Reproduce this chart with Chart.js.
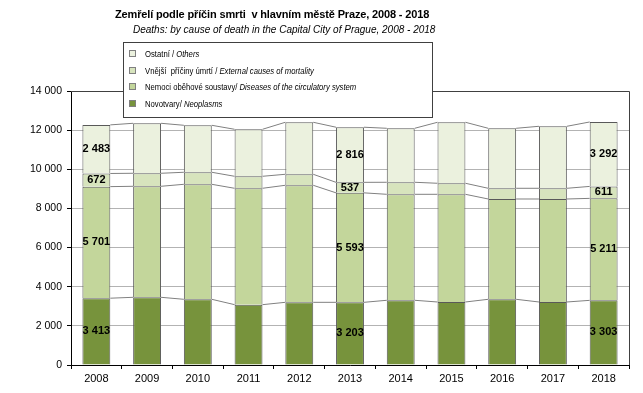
<!DOCTYPE html>
<html>
<head>
<meta charset="utf-8">
<script src="https://cdn.jsdelivr.net/npm/chart.js@4.4.1/dist/chart.umd.min.js"></script>
<style>
  body { margin: 0; background: #fff; }
  #wrap { position: relative; width: 643px; height: 393px; font-family: "Liberation Sans", Arial, sans-serif; color: #000; }
  .nadpis { position: absolute; left: 115px; top: 7px; font-size: 11px; font-weight: bold; letter-spacing: -0.15px; white-space: nowrap; line-height: 14px; }
  .podnadpis { position: absolute; left: 133px; top: 23px; font-size: 10px; font-style: italic; white-space: nowrap; line-height: 14px; }
  .legenda { position: absolute; left: 123px; top: 42px; width: 308px; height: 74px; border: 1px solid #404040; background: #fff; font-size: 9px; }
  .polozka { position: absolute; left: 5px; height: 12px; line-height: 12px; white-space: nowrap; }
  .znacka { display: inline-block; width: 5px; height: 5px; border: 1px solid #808080; margin-right: 9px; vertical-align: 0px; }
  .text { display: inline-block; transform: scaleX(0.855); transform-origin: left center; }
</style>
</head>
<body>
<div id="wrap">
  <canvas id="graf" width="643" height="393"></canvas>
  <div class="nadpis">Zemřelí podle příčin smrti&nbsp; v hlavním městě Praze, 2008 - 2018</div>
  <div class="podnadpis">Deaths: by cause of death in the Capital City of Prague, 2008 - 2018</div>
  <div class="legenda">
    <div class="polozka" style="top:5px"><span class="znacka" style="background:#EBF1DE"></span><span class="text">Ostatní / <i>Others</i></span></div>
    <div class="polozka" style="top:22px"><span class="znacka" style="background:#D7E4BD"></span><span class="text">Vnější&nbsp; příčiny úmrtí / <i>External causes of mortality</i></span></div>
    <div class="polozka" style="top:38px"><span class="znacka" style="background:#C3D69B"></span><span class="text">Nemoci oběhové soustavy/ <i>Diseases of the circulatory system</i></span></div>
    <div class="polozka" style="top:55px"><span class="znacka" style="background:#77933C"></span><span class="text">Novotvary/ <i>Neoplasms</i></span></div>
  </div>
</div>
<script>
// hodnoty
const roky = ['2008', '2009', '2010', '2011', '2012', '2013', '2014', '2015', '2016', '2017', '2018'];
const novotvary = [3413, 3459, 3357, 3083, 3203, 3203, 3306, 3219, 3357, 3219, 3303];
const obehove = [5701, 5672, 5876, 5946, 5979, 5593, 5416, 5503, 5125, 5263, 5211];
const vnejsi = [672, 665, 614, 613, 562, 537, 614, 563, 547, 547, 611];
const ostatni = [2483, 2554, 2401, 2402, 2658, 2816, 2759, 3117, 3066, 3168, 3292];
const popsaneRoky = [0, 5, 10]; // sloupce s popisky hodnot

const formatuj = (n) => String(n).replace(/\B(?=(\d{3})+(?!\d))/g, ' ');

// spojnice mezi sloupci, rámeček a popisky
const doplnky = {
  id: 'doplnky',
  afterDatasetsDraw(chart) {
    const ctx = chart.ctx;
    const area = chart.chartArea;
    ctx.save();

    ctx.strokeStyle = '#808080';
    ctx.lineWidth = 1;
    chart.data.datasets.forEach((ds, s) => {
      const bary = chart.getDatasetMeta(s).data;
      for (let i = 0; i < bary.length - 1; i++) {
        const a = bary[i], b = bary[i + 1];
        ctx.beginPath();
        ctx.moveTo(a.x + a.width / 2, a.y);
        ctx.lineTo(b.x - b.width / 2, b.y);
        ctx.stroke();
      }
    });

    ctx.strokeStyle = '#404040';
    ctx.beginPath();
    ctx.moveTo(area.left, area.top + 0.5);
    ctx.lineTo(area.right + 0.5, area.top + 0.5);
    ctx.lineTo(area.right + 0.5, area.bottom);
    ctx.stroke();

    ctx.fillStyle = '#000';
    ctx.font = 'bold 11px "Liberation Sans", Arial, sans-serif';
    ctx.textAlign = 'center';
    ctx.textBaseline = 'middle';
    chart.data.datasets.forEach((ds, s) => {
      const bary = chart.getDatasetMeta(s).data;
      popsaneRoky.forEach((i) => {
        const el = bary[i];
        ctx.fillText(formatuj(ds.data[i]), el.x, (el.y + el.base) / 2);
      });
    });
    ctx.restore();
  }
};

const sloupec = (label, data, barva) => ({
  label: label,
  data: data,
  backgroundColor: barva,
  borderColor: '#595959',
  borderWidth: 1,
  categoryPercentage: 1,
  barPercentage: 0.55
});

new Chart(document.getElementById('graf'), {
  type: 'bar',
  data: {
    labels: roky,
    datasets: [
      sloupec('Novotvary / Neoplasms', novotvary, '#77933C'),
      sloupec('Nemoci oběhové soustavy / Diseases of the circulatory system', obehove, '#C3D69B'),
      sloupec('Vnější příčiny úmrtí / External causes of mortality', vnejsi, '#D7E4BD'),
      sloupec('Ostatní / Others', ostatni, '#EBF1DE')
    ]
  },
  options: {
    responsive: false,
    animation: false,
    layout: { padding: { left: 0, right: 14, top: 91, bottom: 0 } },
    plugins: {
      legend: { display: false },
      tooltip: { enabled: false }
    },
    scales: {
      x: {
        stacked: true,
        border: { color: '#000' },
        grid: { offset: true, drawOnChartArea: false, tickLength: 4, tickColor: '#000' },
        ticks: { color: '#000', padding: 3, font: { family: '"Liberation Sans", Arial, sans-serif', size: 11 } },
        afterFit: (scale) => { scale.height = 28; }
      },
      y: {
        stacked: true,
        min: 0,
        max: 14000,
        border: { color: '#000' },
        grid: { color: '#b3b3b3', tickLength: 4, tickColor: '#000' },
        ticks: { stepSize: 2000, color: '#000', padding: 5, callback: (v) => formatuj(v),
                 font: { family: '"Liberation Sans", Arial, sans-serif', size: 10.5 } },
        afterFit: (scale) => { scale.width = 71; }
      }
    }
  },
  plugins: [doplnky]
});
</script>
</body>
</html>
